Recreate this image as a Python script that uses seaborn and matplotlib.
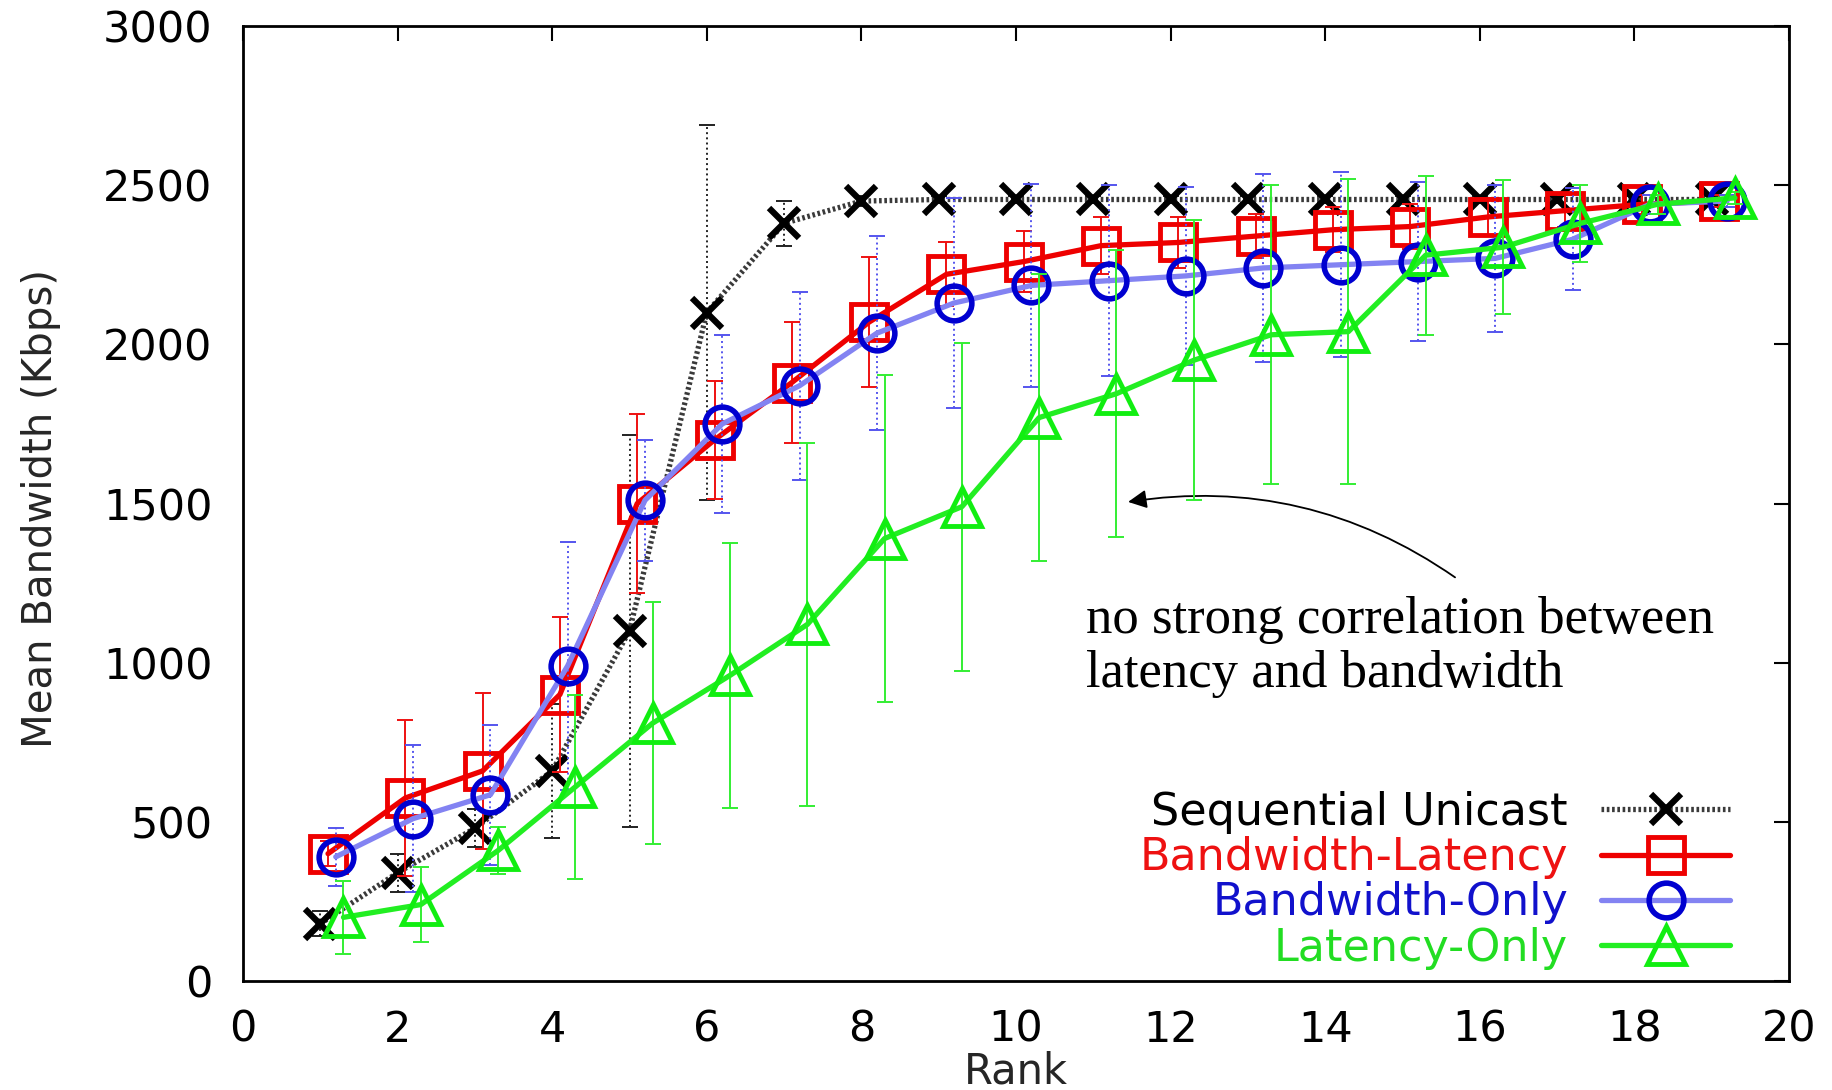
import numpy as np
import pandas as pd
import matplotlib
matplotlib.use('Agg')
import matplotlib.pyplot as plt
import seaborn as sns

# ---------------- data ----------------
ranks = list(range(1, 20))
series_names = ['Sequential Unicast', 'Bandwidth-Latency', 'Bandwidth-Only', 'Latency-Only']

su_mean = [180, 340, 480, 660, 1100, 2100, 2380, 2450, 2455, 2455, 2455, 2455, 2455, 2455, 2455, 2455, 2455, 2455, 2455]
su_err = [40, 60, 60, 210, 615, 590, 70, 15, 10, 10, 10, 10, 10, 10, 10, 10, 10, 10, 10]

bl_mean = [400, 575, 660, 900, 1500, 1700, 1880, 2070, 2220, 2260, 2310, 2320, 2340, 2360, 2370, 2400, 2420, 2440, 2450]
bl_err = [40, 245, 245, 245, 280, 185, 190, 205, 100, 95, 90, 80, 70, 70, 70, 60, 50, 30, 20]

bo_mean = [390, 510, 585, 990, 1510, 1750, 1870, 2035, 2130, 2185, 2200, 2215, 2240, 2250, 2260, 2270, 2330, 2440, 2450]
bo_err = [90, 230, 220, 390, 190, 280, 295, 305, 330, 320, 300, 280, 295, 290, 250, 230, 160, 30, 20]

lo_mean = [200, 240, 410, 610, 810, 960, 1120, 1390, 1490, 1770, 1845, 1950, 2030, 2040, 2280, 2305, 2380, 2440, 2460]
lo_err = [115, 118, 75, 290, 380, 415, 570, 515, 515, 450, 450, 440, 470, 480, 250, 210, 120, 30, 20]

x_ticks = list(range(0, 21, 2))
y_ticks = list(range(0, 3001, 500))
annotation = 'no strong correlation between\nlatency and bandwidth'

# ---------------- style ----------------
sns.set_style('white')
plt.rcParams['font.family'] = ['DejaVu Sans']

W, H = 1832, 1090
fig = plt.figure(figsize=(W / 100, H / 100), dpi=100)
ax = fig.add_axes([243 / W, 1 - 981 / H, (1789 - 243) / W, (981 - 26) / H])

styles = [
    dict(off=0.0, line='#3a3a3a', ls=(0, (0.5, 0.5)), marker='x', mc='#000000', ms=22, mew=4.5,
         ecol='#222222', els=':', z=2),
    dict(off=0.1, line='#ee0000', ls='-', marker='s', mc='#ee0000', ms=26, mew=3.5,
         ecol='#ee1111', els='-', z=3),
    dict(off=0.2, line='#8383f2', ls='-', marker='o', mc='#0000d0', ms=25, mew=4,
         ecol='#5555ee', els=':', z=4),
    dict(off=0.3, line='#22ee22', ls='-', marker='^', mc='#11ee11', ms=27, mew=3.5,
         ecol='#33ee33', els='-', z=5),
]
means = [su_mean, bl_mean, bo_mean, lo_mean]
errs = [su_err, bl_err, bo_err, lo_err]

handles = []
for name, mean, err, st in zip(series_names, means, errs, styles):
    x = np.array(ranks, dtype=float) + st['off']
    df = pd.DataFrame({'Rank': x, 'Mean Bandwidth': mean})
    cont = ax.errorbar(x, mean, yerr=err, fmt='none', ecolor=st['ecol'], elinewidth=1.4,
                       capsize=6, capthick=1.4, zorder=st['z'])
    for lc in cont[2]:
        lc.set_linestyle(st['els'])
    n_before = len(ax.lines)
    sns.lineplot(data=df, x='Rank', y='Mean Bandwidth', ax=ax, color=st['line'],
                 linewidth=3.8, linestyle=st['ls'], marker=st['marker'], markersize=st['ms'],
                 markerfacecolor='none', markeredgecolor=st['mc'], markeredgewidth=st['mew'],
                 errorbar=None, legend=False, zorder=st['z'] + 0.5)
    line = ax.lines[n_before]
    line.set_label(name)
    handles.append(line)

ax.set_xlim(0, 20)
ax.set_ylim(0, 3000)
ax.set_xticks(x_ticks)
ax.set_yticks(y_ticks)
ax.tick_params(direction='in', length=11, width=1.5, top=True, right=True, labelsize=31,
               colors='black')
ax.tick_params(axis='y', pad=22)
ax.tick_params(axis='x', pad=20)
for sp in ax.spines.values():
    sp.set_visible(True)
    sp.set_color('black')
    sp.set_linewidth(2)

ax.set_xlabel('Rank', fontsize=30)
ax.set_ylabel('Mean Bandwidth (Kbps)', fontsize=29)
ax.xaxis.set_label_coords(0.5, -0.073)
ax.yaxis.set_label_coords(-0.118, 0.495)

# legend (markerfirst=False right-aligns the rows, so labels end at the handles)
text_colors = ['#000000', '#ee1111', '#1111cc', '#22dd22']
leg = ax.legend(handles, series_names, loc='lower right', bbox_to_anchor=(0.962, 0.012),
                frameon=False, markerfirst=False, fontsize=32, handlelength=2.9,
                handletextpad=0.75, labelspacing=0.05, borderpad=0, borderaxespad=0)
for t, c in zip(leg.get_texts(), text_colors):
    t.set_color(c)

# annotation
ax.text(10.9, 1210, annotation, family='Liberation Serif', fontsize=38, va='top', ha='left',
        linespacing=1.18, color='black')
ax.annotate('', xy=(11.45, 1505), xytext=(15.68, 1268),
            arrowprops=dict(arrowstyle='-|>', color='black', lw=1.3, mutation_scale=28,
                            connectionstyle='arc3,rad=0.2', shrinkA=0, shrinkB=0))

fig.savefig('out.png', dpi=100)
